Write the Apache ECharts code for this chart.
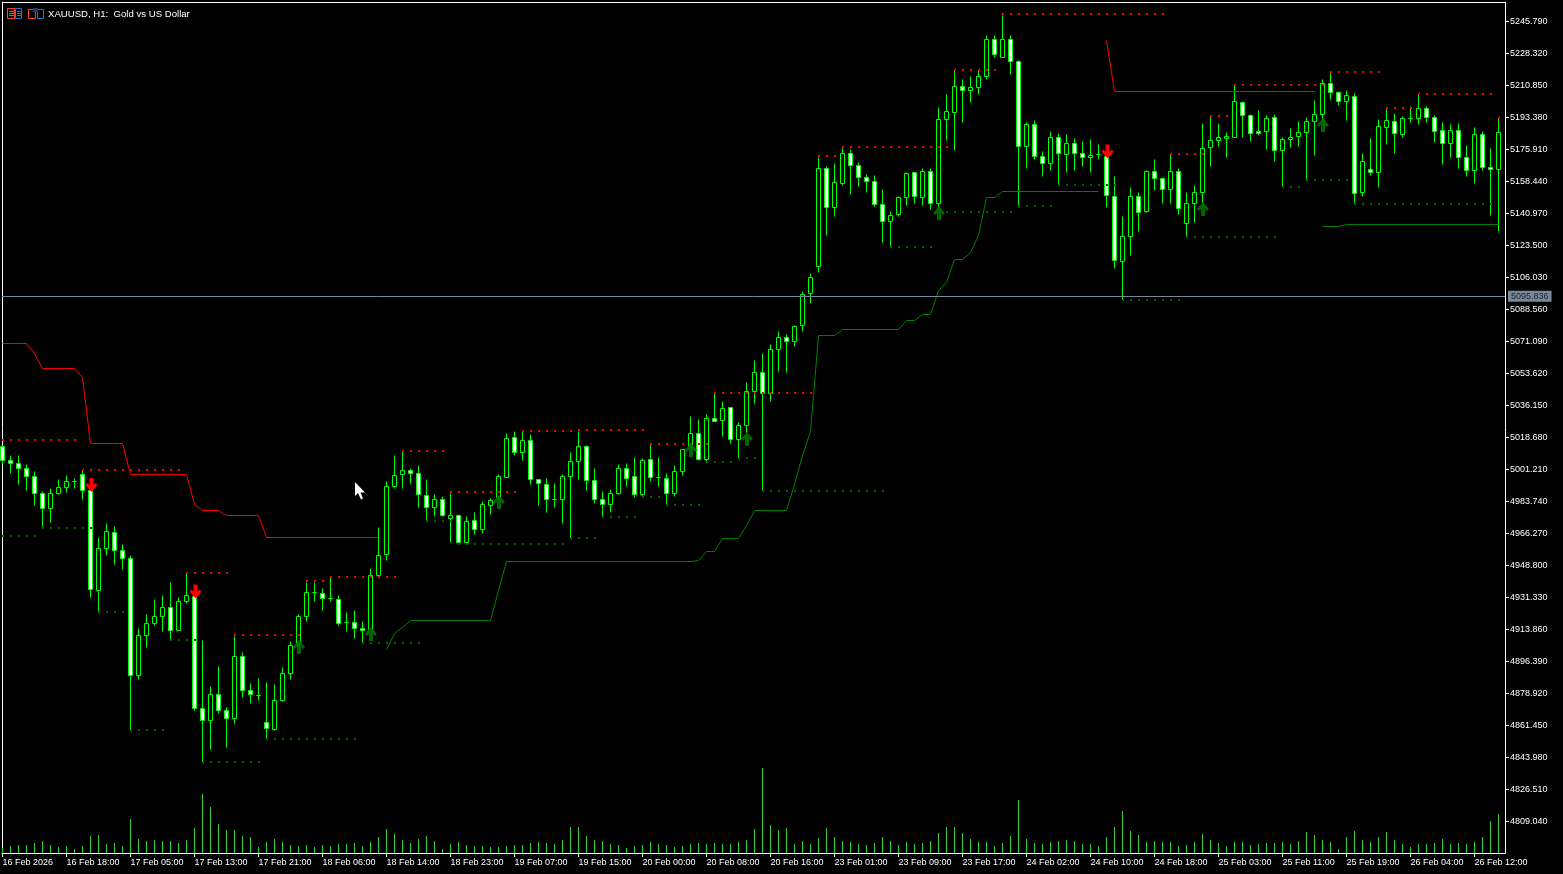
<!DOCTYPE html>
<html>
<head>
<meta charset="utf-8">
<style>html,body{margin:0;padding:0;background:#000;}#c{width:1563px;height:874px;}</style>
<script src="https://cdn.jsdelivr.net/npm/echarts@6/dist/echarts.min.js"></script>
</head>
<body>
<div id="c"></div>
<script>
const symbolTitle = 'XAUUSD, H1:  Gold vs US Dollar';
const currentPrice = 5095.836;
const barCount = 188;
const tickEvery = 8;
const dateLabels = ['16 Feb 2026','16 Feb 18:00','17 Feb 05:00','17 Feb 13:00','17 Feb 21:00','18 Feb 06:00','18 Feb 14:00','18 Feb 23:00','19 Feb 07:00','19 Feb 15:00','20 Feb 00:00','20 Feb 08:00','20 Feb 16:00','23 Feb 01:00','23 Feb 09:00','23 Feb 17:00','24 Feb 02:00','24 Feb 10:00','24 Feb 18:00','25 Feb 03:00','25 Feb 11:00','25 Feb 19:00','26 Feb 04:00','26 Feb 12:00'];
const priceTicks = [4809.04,4826.51,4843.98,4861.45,4878.92,4896.39,4913.86,4931.33,4948.80,4966.27,4983.74,5001.21,5018.68,5036.15,5053.62,5071.09,5088.56,5106.03,5123.50,5140.97,5158.44,5175.91,5193.38,5210.85,5228.32,5245.79];

const opens = [
5013.5,5006.2,5004.6,5001.9,4997.5,4988.2,4979.8,4988.0,4991.3,4994.6,
4998.6,4990.0,4935.4,4958.0,4966.9,4957.1,4952.8,4888.7,4910.5,4917.0,
4920.9,4926.0,4913.2,4929.1,4931.8,4870.9,4864.1,4878.5,4869.8,4865.2,
4899.2,4880.7,4877.9,4863.2,4859.2,4875.0,4889.8,4905.2,4920.9,4934.0,
4933.6,4930.7,4930.4,4917.6,4917.8,4914.5,4913.6,4943.3,4954.7,4991.9,
4998.4,5000.8,4999.2,4987.1,4980.4,4985.0,4974.4,4976.2,4961.3,4973.5,
4968.4,4981.7,4986.0,4996.7,5018.8,5010.4,5017.2,4995.9,4993.1,4985.0,
4984.7,4997.3,5005.5,5013.9,4995.3,4984.7,4982.0,4988.0,5001.9,4997.5,
4987.5,5006.8,4996.6,4996.4,4988.0,5000.0,5012.2,5021.0,5006.6,5029.2,
5027.9,5035.2,5017.5,5025.1,5043.7,5054.3,5042.8,5066.6,5073.4,5071.0,
5079.7,5097.2,5112.0,5165.7,5144.1,5157.2,5173.8,5167.3,5160.5,5158.5,
5146.0,5136.5,5140.3,5149.6,5163.5,5149.6,5164.0,5146.3,5192.2,5196.0,
5210.2,5208.0,5209.7,5215.7,5236.1,5226.0,5236.1,5224.1,5177.4,5189.7,
5172.2,5168.2,5182.6,5173.1,5179.3,5173.8,5171.7,5173.1,5172.0,5150.4,
5114.9,5128.3,5150.4,5142.0,5164.0,5160.2,5154.2,5164.0,5135.6,5146.3,
5152.3,5176.9,5180.7,5181.8,5182.7,5201.7,5194.6,5185.8,5185.6,5193.5,
5175.2,5181.3,5182.9,5185.1,5191.1,5194.9,5212.1,5207.1,5202.0,5205.0,
5152.3,5165.1,5163.2,5187.8,5191.3,5184.2,5192.6,5192.7,5198.4,5193.5,
5186.4,5179.3,5186.4,5171.7,5164.3,5184.2,5166.2,5164.9];

const closes = [
5005.9,5004.4,5001.7,4997.3,4988.2,4979.8,4988.2,4991.5,4994.8,4994.6,
4989.7,4935.8,4958.2,4967.5,4956.9,4952.8,4888.7,4910.7,4917.3,4921.1,
4926.0,4913.2,4929.3,4932.5,4870.9,4864.1,4878.5,4869.5,4865.2,4899.2,
4880.7,4878.5,4877.9,4859.7,4875.2,4889.9,4905.2,4921.1,4934.2,4934.0,
4930.7,4930.7,4917.0,4917.6,4914.3,4913.2,4943.5,4954.4,4992.1,4998.1,
5000.8,4999.2,4987.7,4980.4,4985.0,4976.0,4976.2,4961.3,4972.9,4968.4,
4982.2,4984.4,4997.5,5018.2,5010.4,5017.2,4995.9,4993.5,4984.7,4985.0,
4997.5,5005.7,5013.9,4995.3,4984.7,4982.0,4988.2,5001.9,4996.2,4987.5,
5006.2,4996.7,4996.6,4988.0,5000.2,5012.2,5021.0,5006.6,5029.2,5027.3,
5034.6,5017.7,5025.4,5043.9,5054.3,5042.8,5066.9,5073.4,5071.0,5079.4,
5096.9,5106.1,5165.7,5144.1,5158.0,5173.8,5167.3,5160.5,5158.3,5145.8,
5136.5,5140.0,5149.8,5162.9,5150.1,5164.0,5146.3,5192.4,5196.8,5210.4,
5208.0,5209.9,5215.9,5236.1,5227.7,5236.1,5223.9,5177.4,5189.7,5172.0,
5168.2,5182.6,5173.6,5179.3,5173.6,5171.7,5172.8,5173.1,5150.7,5115.4,
5128.5,5150.4,5141.6,5164.0,5160.2,5154.2,5164.0,5143.8,5146.5,5152.5,
5176.6,5180.9,5182.6,5183.1,5202.2,5194.6,5184.5,5184.5,5192.9,5175.2,
5181.5,5182.6,5185.3,5191.3,5195.1,5212.1,5207.1,5202.2,5205.5,5152.0,
5169.5,5163.2,5188.6,5191.9,5184.8,5192.9,5192.6,5198.4,5193.5,5185.8,
5179.3,5186.4,5171.7,5164.6,5184.2,5166.0,5165.1,5185.3];

const lows = [
5004.2,4998.9,4992.8,4989.5,4981.3,4970.0,4972.5,4987.8,4988.4,4990.6,
4985.1,4931.1,4923.8,4954.0,4949.6,4946.4,4859.4,4886.3,4903.8,4915.8,
4912.5,4908.2,4913.2,4927.8,4869.4,4841.7,4848.6,4868.1,4849.7,4862.3,
4876.5,4873.2,4874.9,4854.5,4858.6,4874.5,4886.3,4904.3,4918.5,4929.4,
4924.5,4929.1,4916.3,4913.0,4909.2,4906.7,4912.5,4943.1,4951.8,4991.1,
4991.1,4993.3,4980.2,4973.1,4975.3,4975.3,4961.1,4961.1,4961.0,4965.5,
4966.0,4976.9,4984.6,4996.6,5008.6,5005.9,4992.8,4981.3,4978.0,4980.2,
4972.0,4964.2,4996.0,4990.0,4982.4,4975.5,4978.0,4987.8,4992.2,4985.7,
4986.0,4994.9,4992.2,4981.8,4986.2,4997.7,5011.9,5005.9,5005.5,5027.3,
5019.5,5015.3,5007.5,5020.6,5037.0,4990.0,5038.1,5054.5,5053.9,5068.1,
5076.8,5091.6,5108.5,5129.2,5139.6,5156.5,5151.1,5155.6,5152.3,5144.7,
5125.0,5123.2,5139.1,5145.1,5146.2,5145.6,5143.4,5141.8,5180.6,5175.1,
5190.9,5201.3,5206.2,5214.4,5226.4,5225.9,5217.1,5145.1,5165.3,5170.7,
5160.9,5164.2,5156.5,5163.6,5164.7,5166.4,5163.1,5170.7,5144.5,5110.7,
5093.8,5117.8,5130.9,5141.4,5153.3,5146.2,5146.7,5140.2,5128.3,5136.3,
5146.7,5166.4,5177.8,5171.8,5182.2,5182.2,5180.5,5183.7,5176.0,5169.6,
5155.4,5177.1,5177.7,5159.3,5172.4,5192.0,5203.3,5200.2,5191.5,5146.5,
5150.0,5161.8,5154.9,5178.4,5174.0,5182.7,5190.4,5189.3,5190.4,5179.5,
5167.5,5171.8,5165.8,5160.9,5157.6,5164.2,5139.8,5131.0];

const highs = [
5014.1,5008.6,5008.6,5003.7,5000.0,4989.0,4990.6,4996.0,4998.2,4996.5,
5000.4,4991.1,4964.2,4971.9,4970.2,4960.4,4954.4,4914.5,4922.2,4930.4,
4932.5,4939.6,4931.5,4944.5,4934.3,4907.6,4883.0,4893.9,4871.4,4910.3,
4901.4,4884.5,4887.2,4885.0,4883.6,4893.2,4907.4,4922.2,4939.6,4939.6,
4936.4,4942.0,4932.5,4923.4,4924.4,4918.0,4947.3,4969.3,4994.8,5009.1,
5010.8,5001.9,5003.5,4995.9,4987.8,4986.7,4988.2,4976.4,4975.7,4977.5,
4983.9,4985.5,4998.6,5020.6,5022.1,5021.9,5020.4,4996.0,4996.5,4993.3,
4998.6,5010.6,5022.2,5014.4,5002.0,4989.3,4990.4,5003.7,5004.6,5007.9,
5007.3,5014.6,5007.9,4999.2,5003.5,5012.4,5030.3,5028.6,5031.5,5042.6,
5038.4,5035.3,5027.0,5048.8,5060.8,5064.3,5069.6,5076.7,5075.0,5079.9,
5098.5,5108.3,5171.7,5166.7,5168.0,5176.6,5176.0,5168.9,5162.4,5161.8,
5154.2,5142.2,5150.1,5163.5,5163.6,5165.8,5165.8,5198.6,5205.7,5218.9,
5213.9,5216.0,5218.9,5238.4,5237.9,5249.3,5238.4,5224.6,5190.9,5191.9,
5174.9,5185.9,5184.8,5184.2,5182.0,5180.5,5181.5,5178.9,5174.5,5161.3,
5139.6,5155.3,5152.5,5164.2,5170.6,5160.7,5173.3,5165.7,5152.5,5156.4,
5190.2,5194.0,5190.2,5185.3,5211.1,5201.9,5195.1,5197.3,5194.6,5195.1,
5182.6,5187.5,5191.3,5193.5,5202.8,5214.2,5217.8,5207.7,5208.2,5206.6,
5173.8,5182.0,5192.4,5198.4,5195.7,5194.0,5199.5,5205.7,5199.5,5194.6,
5190.8,5189.7,5190.2,5178.2,5188.0,5185.9,5176.6,5192.9];

const volumes = [
5,7,8,8,10,12,8,6,7,4,
7,17,18,9,10,7,34,14,12,13,
12,12,10,13,25,59,46,29,23,23,
17,16,6,11,14,11,8,7,8,6,
8,7,9,9,10,7,11,16,24,19,
13,10,14,17,12,4,9,11,8,7,
7,6,6,7,8,8,10,11,10,9,
13,26,26,17,13,12,9,8,5,7,
8,11,9,8,6,7,9,10,9,10,
9,9,11,13,24,85,28,23,25,9,
12,9,15,25,16,12,11,9,8,10,
16,12,8,11,9,10,12,20,26,26,
20,14,11,11,7,10,17,53,14,10,
9,11,12,13,12,9,9,7,16,26,
42,22,18,11,12,11,11,7,8,11,
19,13,10,7,11,11,8,9,10,10,
11,9,12,21,18,13,11,4,16,22,
13,11,16,21,13,9,6,9,9,10,
14,9,10,9,11,16,32,39];

// [first bar, last bar, price]
const resistanceLevels = [[0,9,5017.3],[10,22,5000.9],[23,28,4944.9],[29,37,4910.9],[38,40,4940.5],[41,49,4942.7],[50,55,5011.5],[56,64,4988.9],[65,71,5022.2],[72,80,5022.8],[81,88,5015.1],[89,101,5043.0],[102,104,5172.4],[105,118,5177.4],[119,124,5219.3],[125,145,5249.9],[146,150,5173.5],[151,153,5194.2],[154,165,5211.1],[166,172,5218.2],[173,176,5198.6],[177,186,5206.2],[187,187,5193.1]];
const supportLevels = [[0,4,4964.9],[5,11,4969.3],[12,15,4923.4],[16,20,4859.0],[21,24,4908.1],[25,32,4841.5],[33,44,4854.1],[45,52,4906.5],[53,56,4973.1],[57,70,4960.6],[71,74,4964.0],[75,79,4975.3],[80,82,4986.2],[83,87,4981.9],[88,91,5005.3],[92,94,5007.5],[95,110,4989.5],[111,116,5122.7],[117,126,5141.8],[127,131,5145.1],[132,139,5156.5],[140,147,5093.8],[148,159,5128.1],[160,162,5155.4],[163,168,5159.3],[169,186,5146.2],[187,187,5130.9]];
const redStopRuns = [[0,3,5070.1],[4,4,5064.7],[5,9,5056.5],[10,10,5051.5],[11,15,5015.5],[16,23,4998.6],[24,24,4981.9],[25,27,4979.0],[28,32,4976.2],[33,47,4964.2],[138,138,5235.3],[139,164,5207.8]];
const greenStopRuns = [[48,48,4903.2],[49,49,4911.8],[50,50,4914.7],[51,61,4918.9],[62,62,4935.4],[63,86,4951.1],[87,87,4951.5],[88,89,4956.6],[90,92,4963.4],[93,93,4970.5],[94,98,4979.0],[99,99,4992.8],[100,100,5009.1],[101,101,5021.9],[102,104,5074.3],[105,112,5077.8],[113,114,5082.7],[115,116,5085.9],[117,117,5099.2],[118,118,5103.4],[119,120,5116.0],[121,121,5119.8],[122,122,5129.2],[123,124,5149.8],[125,137,5152.9],[165,167,5134.0],[168,187,5135.1]];
const buyArrows = [[37,4904.3],[46,4911.4],[62,4983.5],[86,5011.9],[93,5017.9],[117,5141.2],[150,5143.4],[165,5189.3]];
const sellArrows = [[11,4992.8],[24,4934.6],[138,5174.8]];

// Price scale of the pane: one screen row of the terminal is this many dollars.
const pricePerRow = 17.47 / 32;
const priceTop = 5256.438;
const rowOf = p => (priceTop - p) / pricePerRow;
const atRowCentre = p => priceTop - (Math.floor(rowOf(p)) + 0.5) * pricePerRow;
const atRowEdge = p => priceTop - Math.round(rowOf(p)) * pricePerRow;

const tickBars = dateLabels.map((_, i) => i * tickEvery);
const candles = opens.map((o, i) => [i, atRowCentre(o), atRowCentre(closes[i]), atRowCentre(lows[i]), atRowCentre(highs[i])]);
const volumeData = volumes.map((v, i) => [i, v]);
const levelPoints = runs => runs.flatMap(([a, b, p]) => { const out = []; for (let k = a; k <= b; k++) out.push([k, atRowEdge(p)]); return out; });
const runLine = runs => { const out = []; for (let k = 0; k < barCount; k++) out.push([k, null]); runs.forEach(([a, b, p]) => { for (let k = a; k <= b; k++) out[k][1] = atRowCentre(p); }); return out; };

const arrowUp = 'path://M6 0 L12 7 L10 9 L8 7 L8 14 L4 14 L4 7 L2 9 L0 7 Z';
const arrowDown = 'path://M4 0 L8 0 L8 7 L10 5 L12 7 L6 14 L0 7 L2 5 L4 7 Z';
const axisFont = {color:'#fff', fontFamily:'Liberation Sans', fontSize:9};

const chart = echarts.init(document.getElementById('c'), null, {renderer:'canvas', width:1563, height:874});
chart.setOption({
  animation:false,
  backgroundColor:'#000',
  title:{text:symbolTitle, left:48, top:8, padding:0, textStyle:{color:'#fff', fontFamily:'Liberation Sans', fontSize:9.6, fontWeight:'normal', lineHeight:12}},
  grid:{left:2, right:58, top:2, bottom:21, containLabel:false, outerBoundsMode:'none'},
  xAxis:{
    type:'value', position:'bottom', min:-0.0625, max:187.8125, scale:true, containShape:false,
    axisLine:{show:true, onZero:false, lineStyle:{color:'#fff', width:1}},
    axisTick:{show:true, length:4, customValues:tickBars, lineStyle:{color:'#fff'}},
    axisLabel:Object.assign({customValues:tickBars, align:'left', margin:5, hideOverlap:false, formatter:v=>dateLabels[Math.round(v/tickEvery)]}, axisFont),
    splitLine:{show:false}
  },
  yAxis:[
    {type:'value', position:'right', min:4791.877, max:priceTop, scale:true,
     axisLine:{show:true, onZero:false, lineStyle:{color:'#fff', width:1}},
     axisTick:{show:true, length:4, customValues:priceTicks, lineStyle:{color:'#fff'}},
     axisLabel:Object.assign({customValues:priceTicks, margin:5, formatter:v=>v.toFixed(3)}, axisFont),
     splitLine:{show:false}},
    {type:'value', position:'left', min:0, max:851,
     axisLine:{show:true, onZero:false, lineStyle:{color:'#fff', width:1}},
     axisTick:{show:false}, axisLabel:{show:false}, splitLine:{show:false}}
  ],
  series:[
    {name:'Volume', type:'bar', yAxisIndex:1, data:volumeData, barWidth:1, itemStyle:{color:'#32cd32'}, silent:true, z:1},
    {name:'XAUUSD', type:'candlestick', data:candles, barWidth:4, z:2, silent:true, clip:true,
     itemStyle:{color:'#000', color0:'#fff', borderColor:'#00ff00', borderColor0:'#00ff00', borderWidth:1},
     markLine:{symbol:'none', silent:true, animation:false, precision:3,
       data:[{yAxis:currentPrice}],
       lineStyle:{color:'#778899', type:'solid', width:1},
       label:{show:true, position:'end', distance:3, formatter:()=>currentPrice.toFixed(3), backgroundColor:'#778899', color:'#1a2030', padding:[1,3,1,3], fontFamily:'Liberation Sans', fontSize:9}}},
    {name:'Stop red', type:'line', data:runLine(redStopRuns), showSymbol:false, connectNulls:false, lineStyle:{color:'#ff0000', width:1}, z:3, silent:true},
    {name:'Stop green', type:'line', data:runLine(greenStopRuns), showSymbol:false, connectNulls:false, lineStyle:{color:'#008000', width:1}, z:3, silent:true},
    {name:'Resistance', type:'scatter', data:levelPoints(resistanceLevels), symbol:'rect', symbolSize:[2,2], symbolOffset:[0.5,0], itemStyle:{color:'#ff0000', opacity:1}, z:4, silent:true},
    {name:'Support', type:'scatter', data:levelPoints(supportLevels), symbol:'rect', symbolSize:[2,2], symbolOffset:[0.5,0], itemStyle:{color:'#006400', opacity:1}, z:4, silent:true},
    {name:'Buy', type:'scatter', data:buyArrows, symbol:arrowUp, symbolSize:[12,14], symbolOffset:[0.5,0], symbolKeepAspect:false, itemStyle:{color:'#006400', opacity:1}, z:5, silent:true},
    {name:'Sell', type:'scatter', data:sellArrows, symbol:arrowDown, symbolSize:[12,14], symbolOffset:[1,0], symbolKeepAspect:false, itemStyle:{color:'#ff0000', opacity:1}, z:5, silent:true}
  ],
  graphic:[
    {type:'line', shape:{x1:2,y1:2.5,x2:1506,y2:2.5}, style:{stroke:'#fff', lineWidth:1}, silent:true},
    {type:'polygon', shape:{points:[[355,482],[355,496],[358,493],[361,499.5],[363,498.5],[360.5,492.5],[365,492.5]]}, style:{fill:'#fff'}, silent:true, z:50},
    {type:'rect', shape:{x:7.5,y:8.5,width:7,height:10}, style:{fill:'#000', stroke:'#ff4030', lineWidth:1}, silent:true},
    {type:'rect', shape:{x:15.5,y:8.5,width:6,height:10}, style:{fill:'#000', stroke:'#2070e0', lineWidth:1}, silent:true},
    {type:'line', shape:{x1:9,y1:11.5,x2:14,y2:11.5}, style:{stroke:'#ff4030'}, silent:true},
    {type:'line', shape:{x1:9,y1:13.5,x2:14,y2:13.5}, style:{stroke:'#ff4030'}, silent:true},
    {type:'line', shape:{x1:9,y1:15.5,x2:14,y2:15.5}, style:{stroke:'#ff4030'}, silent:true},
    {type:'line', shape:{x1:17,y1:11.5,x2:21,y2:11.5}, style:{stroke:'#2070e0'}, silent:true},
    {type:'line', shape:{x1:17,y1:13.5,x2:21,y2:13.5}, style:{stroke:'#2070e0'}, silent:true},
    {type:'line', shape:{x1:17,y1:15.5,x2:21,y2:15.5}, style:{stroke:'#2070e0'}, silent:true},
    {type:'rect', shape:{x:28.5,y:9.5,width:7,height:9}, style:{fill:'#000', stroke:'#ff4030', lineWidth:1}, silent:true},
    {type:'rect', shape:{x:37.5,y:9.5,width:6,height:9}, style:{fill:'#000', stroke:'#2070e0', lineWidth:1}, silent:true},
    {type:'rect', shape:{x:33,y:8,width:5,height:4}, style:{fill:'#1a3a7a'}, silent:true}
  ]
});
</script>
</body>
</html>
